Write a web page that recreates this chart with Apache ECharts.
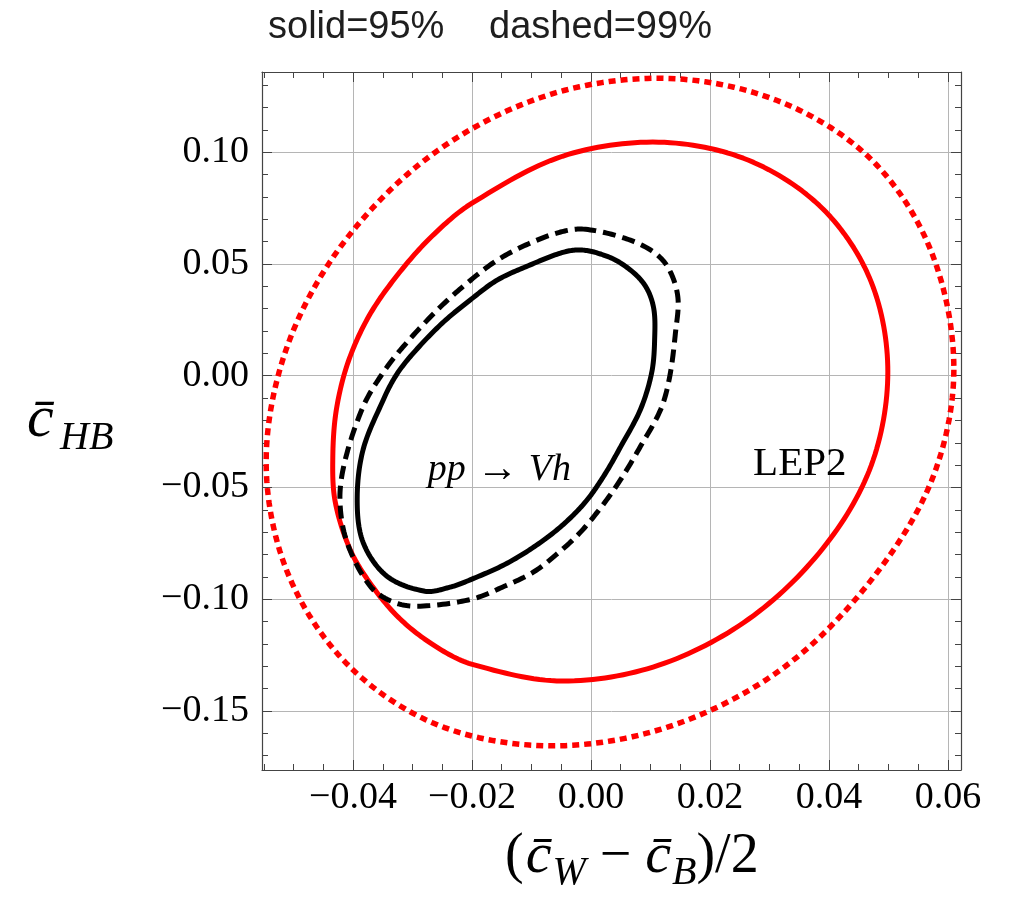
<!DOCTYPE html>
<html>
<head>
<meta charset="utf-8">
<script src="https://cdn.jsdelivr.net/npm/echarts@6/dist/echarts.min.js"></script>
<style>
  html, body { margin: 0; padding: 0; background: #fff; }
  #chart { width: 1011px; height: 911px; }
</style>
</head>
<body>
<div id="chart"></div>
<script>
// plot window and ticks
const xRange = [-0.0553, 0.0622];
const yRange = [-0.1764, 0.1359];
const xMajor = [-0.04, -0.02, 0, 0.02, 0.04, 0.06];
const yMajor = [-0.15, -0.1, -0.05, 0, 0.05, 0.1];
const xMinor = [];
for (let i = -11; i <= 12; i++) xMinor.push(+(i * 0.005).toFixed(3));
const yMinor = [];
for (let i = -17; i <= 13; i++) yMinor.push(+(i * 0.01).toFixed(2));

// LEP2 contours, [x, y], closed loops
const lep95 = [
  [0.0499, 0.0018], [0.0471, -0.0402], [0.0390, -0.0772], [0.0265, -0.1089], [0.0114, -0.1295],
  [-0.0048, -0.1366], [-0.0201, -0.1290], [-0.0267, -0.1201], [-0.0324, -0.1080], [-0.0371, -0.0929],
  [-0.0405, -0.0777], [-0.0430, -0.0563], [-0.0434, -0.0366], [-0.0428, -0.0152], [-0.0408, 0.0063],
  [-0.0373, 0.0268], [-0.0324, 0.0455], [-0.0267, 0.0625], [-0.0200, 0.0772], [-0.0048, 0.0982],
  [0.0114, 0.1045], [0.0265, 0.0964], [0.0390, 0.0746], [0.0471, 0.0420]
];
const lep99 = [
  [0.0610, 0.0027], [0.0572, -0.0473], [0.0464, -0.0938], [0.0316, -0.1321], [0.0130, -0.1571],
  [-0.0068, -0.1656], [-0.0257, -0.1563], [-0.0410, -0.1290], [-0.0511, -0.0875], [-0.0546, -0.0379],
  [-0.0509, 0.0143], [-0.0410, 0.0616], [-0.0257, 0.1009], [-0.0068, 0.1259], [0.0132, 0.1330],
  [0.0321, 0.1223], [0.0474, 0.0960], [0.0573, 0.0549]
];
// pp -> Vh contours
const vh95 = [
  [-0.0051, 0.0549], [-0.0021, 0.0563], [0.0011, 0.0549], [0.0050, 0.0504], [0.0088, 0.0415],
  [0.0105, 0.0308], [0.0107, 0.0161], [0.0102, 0.0013], [0.0083, -0.0152], [0.0050, -0.0317],
  [0.0024, -0.0438], [-0.0006, -0.0554], [-0.0041, -0.0652], [-0.0085, -0.0746], [-0.0141, -0.0839],
  [-0.0201, -0.0911], [-0.0237, -0.0946], [-0.0279, -0.0964], [-0.0343, -0.0897], [-0.0383, -0.0746],
  [-0.0393, -0.0554], [-0.0383, -0.0330], [-0.0349, -0.0107], [-0.0329, -0.0004], [-0.0304, 0.0085],
  [-0.0253, 0.0228], [-0.0203, 0.0339], [-0.0157, 0.0429], [-0.0102, 0.0496]
];
const vh99 = [
  [-0.0013, 0.0656], [0.0050, 0.0621], [0.0100, 0.0563], [0.0129, 0.0487], [0.0146, 0.0353],
  [0.0142, 0.0192], [0.0132, -0.0009], [0.0117, -0.0152], [0.0083, -0.0317], [0.0050, -0.0464],
  [0.0018, -0.0585], [-0.0018, -0.0701], [-0.0056, -0.0795], [-0.0097, -0.0879], [-0.0149, -0.0946],
  [-0.0201, -0.1000], [-0.0287, -0.1031], [-0.0332, -0.1013], [-0.0371, -0.0942], [-0.0410, -0.0746],
  [-0.0422, -0.0554], [-0.0413, -0.0375], [-0.0383, -0.0138], [-0.0352, 0.0004], [-0.0316, 0.0129],
  [-0.0258, 0.0295], [-0.0208, 0.0415], [-0.0157, 0.0518], [-0.0102, 0.0594], [-0.0051, 0.0643]
];

const frameColor = '#444';
const gridColor = '#b5b5b5';
const serif = 'Liberation Serif';
const fmt = v => v.toFixed(2).replace('-', '\u2212');

// one axis for major ticks (+labels/grid), one for minor ticks, on each side
function xAxisDef(pos, ticks, len, withLabels) {
  return {
    type: 'value', position: pos, min: xRange[0], max: xRange[1],
    axisLine: { show: len > 6, onZero: false, lineStyle: { color: frameColor, width: 1.2 } },
    axisTick: { show: true, inside: true, length: len, customValues: ticks, lineStyle: { color: frameColor } },
    axisLabel: withLabels
      ? { customValues: xMajor, formatter: fmt, fontFamily: serif, fontSize: 38, color: '#000', margin: 9 }
      : { show: false },
    splitLine: withLabels ? { show: true, lineStyle: { color: gridColor, width: 1 } } : { show: false }
  };
}
function yAxisDef(pos, ticks, len, withLabels) {
  return {
    type: 'value', position: pos, min: yRange[0], max: yRange[1],
    axisLine: { show: len > 6, onZero: false, lineStyle: { color: frameColor, width: 1.2 } },
    axisTick: { show: true, inside: true, length: len, customValues: ticks, lineStyle: { color: frameColor } },
    axisLabel: withLabels
      ? { customValues: yMajor, formatter: fmt, fontFamily: serif, fontSize: 38, color: '#000', margin: 13 }
      : { show: false },
    splitLine: withLabels ? { show: true, lineStyle: { color: gridColor, width: 1 } } : { show: false }
  };
}

// closed smooth curve through the pixel positions (chord-length tangents, cubic bezier)
function closedCurve(px, steps) {
  const n = px.length;
  const d = px.map((p, i) => {
    const q = px[(i + 1) % n];
    return Math.hypot(q[0] - p[0], q[1] - p[1]);
  });
  const tan = px.map((p, i) => {
    const a = px[(i - 1 + n) % n], b = px[(i + 1) % n];
    const s = d[(i - 1 + n) % n] + d[i];
    return [(b[0] - a[0]) / s, (b[1] - a[1]) / s];
  });
  const out = [];
  for (let i = 0; i < n; i++) {
    const j = (i + 1) % n;
    const p1 = px[i], p2 = px[j], L = d[i] / 3;
    const c1 = [p1[0] + tan[i][0] * L, p1[1] + tan[i][1] * L];
    const c2 = [p2[0] - tan[j][0] * L, p2[1] - tan[j][1] * L];
    for (let k = 0; k < steps; k++) {
      const t = k / steps, u = 1 - t;
      const b0 = u * u * u, b1 = 3 * u * u * t, b2 = 3 * u * t * t, b3 = t * t * t;
      out.push([
        b0 * p1[0] + b1 * c1[0] + b2 * c2[0] + b3 * p2[0],
        b0 * p1[1] + b1 * c1[1] + b2 * c2[1] + b3 * p2[1]
      ]);
    }
  }
  return out;
}

function contour(points, color, dash, width) {
  return {
    type: 'custom', xAxisIndex: 0, yAxisIndex: 0, data: points, silent: true,
    renderItem: function (params, api) {
      if (params.dataIndex !== 0) return null;
      const px = points.map(p => api.coord(p));
      return {
        type: 'polygon',
        shape: { points: closedCurve(px, 16) },
        style: { fill: 'none', stroke: color, lineWidth: width || 5, lineDash: dash || null, lineJoin: 'round' }
      };
    }
  };
}

const chart = echarts.init(document.getElementById('chart'));
const titleStyle = { fontFamily: 'Liberation Sans', fontWeight: 'normal', fontSize: 38, color: '#1e1e1e' };
chart.setOption({
  animation: false,
  title: [
    { text: 'solid=95%', left: 263, top: 4, textStyle: titleStyle },
    { text: 'dashed=99%', left: 484, top: 4, textStyle: titleStyle }
  ],
  grid: { left: 262, top: 72, width: 699, height: 698 },
  xAxis: [
    xAxisDef('bottom', xMajor, 10, true),
    xAxisDef('bottom', xMinor, 6, false),
    xAxisDef('top', xMajor, 10, false),
    xAxisDef('top', xMinor, 6, false)
  ],
  yAxis: [
    yAxisDef('left', yMajor, 10, true),
    yAxisDef('left', yMinor, 6, false),
    yAxisDef('right', yMajor, 10, false),
    yAxisDef('right', yMinor, 6, false)
  ],
  series: [
    contour(lep99, '#ff0000', [7, 5], 5.5),
    contour(lep95, '#ff0000'),
    contour(vh99, '#000000', [13, 7]),
    contour(vh95, '#000000')
  ]
});

// text annotations placed in data coordinates
const ppPos = chart.convertToPixel({ xAxisIndex: 0, yAxisIndex: 0 }, [-0.0154, -0.042]);
const lepPos = chart.convertToPixel({ xAxisIndex: 0, yAxisIndex: 0 }, [0.0351, -0.0397]);

chart.setOption({
  graphic: [
    {
      type: 'text', x: ppPos[0], y: ppPos[1],
      style: {
        text: '{i|pp}{a| \u2192 }{i|Vh}', align: 'center', verticalAlign: 'middle',
        rich: {
          i: { fontFamily: serif, fontStyle: 'italic', fontSize: 38, fill: '#000' },
          a: { fontFamily: serif, fontSize: 42, fill: '#000' }
        }
      }
    },
    {
      type: 'text', x: lepPos[0], y: lepPos[1],
      style: { text: 'LEP2', align: 'center', verticalAlign: 'middle', fontFamily: serif, fontSize: 41, fill: '#000' }
    },
    // y axis name
    {
      type: 'text', x: 27, y: 420,
      style: { text: 'c\u0304', verticalAlign: 'middle', fontFamily: serif, fontStyle: 'italic', fontSize: 60, fill: '#000' }
    },
    {
      type: 'text', x: 60, y: 438,
      style: { text: 'HB', verticalAlign: 'middle', fontFamily: serif, fontStyle: 'italic', fontSize: 40, fill: '#000' }
    },
    // x axis name
    {
      type: 'text', left: 505, top: 828,
      style: {
        text: '{n|(}{c|c\u0304}{s|W}{m|\u2212}{c|c\u0304}{s|B}{n|)/2}',
        rich: {
          n: { fontFamily: serif, fontSize: 56, fill: '#000' },
          c: { fontFamily: serif, fontStyle: 'italic', fontSize: 58, fill: '#000', padding: [0, 1, 0, 2] },
          m: { fontFamily: serif, fontSize: 56, fill: '#000', padding: [0, 12, 0, 14] },
          s: { fontFamily: serif, fontStyle: 'italic', fontSize: 40, fill: '#000', padding: [32, 0, 0, 0] }
        }
      }
    }
  ]
});
</script>
</body>
</html>
